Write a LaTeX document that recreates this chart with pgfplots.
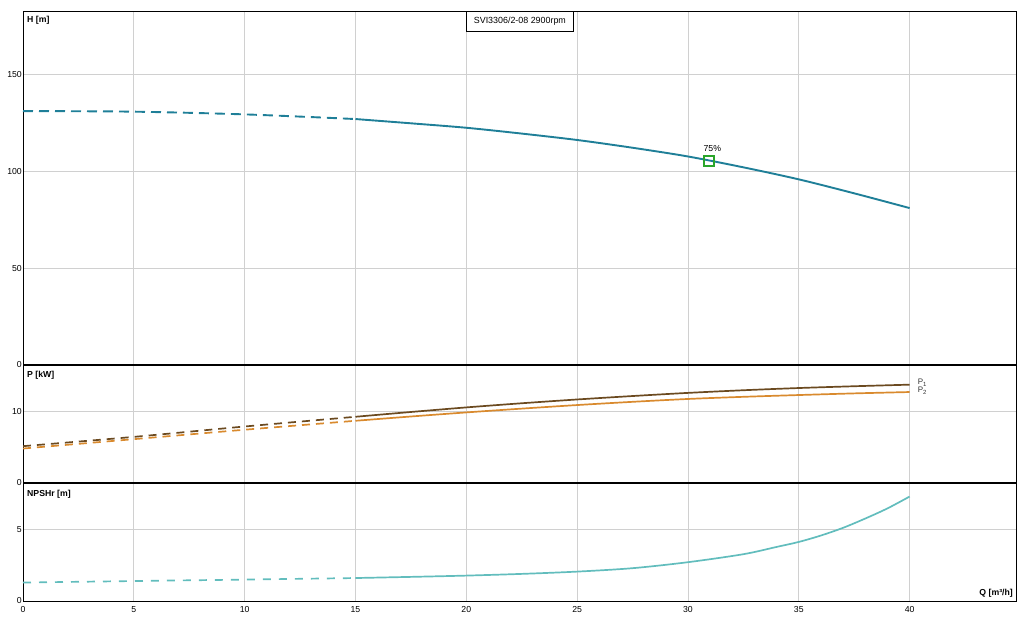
\documentclass[border=0pt]{standalone}
\usepackage{fontspec}
\setmainfont{Liberation Sans}
\usepackage{pgfplots}
\pgfplotsset{compat=1.18}
\definecolor{hcol}{HTML}{1F7F98}
\definecolor{p1col}{HTML}{6B4A20}
\definecolor{p2col}{HTML}{D98A2E}
\definecolor{ncol}{HTML}{62BDBD}
\definecolor{gridc}{HTML}{D0D0D0}
\definecolor{mk}{HTML}{2AA52A}
\pgfplotsset{
  panel/.style={
    scale only axis, width=993pt, xmin=0, xmax=44.8,
    xtick={0,5,...,40}, grid=major,
    major grid style={gridc, line width=0.8pt},
    major tick length=0pt,
    axis line style={black, line width=0.9pt},
    tick label style={font=\fontsize{8.7}{10}\selectfont},
    /pgf/number format/assume math mode=true,
    yticklabel style={inner sep=1pt},
    xticklabel style={yshift=-1.5pt},
  }
}
\begin{document}
\begin{tikzpicture}
% ---------- H panel ----------
\begin{axis}[panel, at={(23pt,259pt)}, anchor=south west, height=354pt,
  ymin=0, ymax=182.5, ytick={0,50,100,150}, xticklabels={}]
\addplot[hcol, line width=1.9pt, smooth, dash pattern=on 10pt off 6pt]
  coordinates {(0,130.9) (5,130.6) (10,129.2) (15,126.8)};
\addplot[hcol, line width=1.9pt, smooth]
  coordinates {(15,126.8) (17.5,124.6) (20,122.3) (22.5,119.3) (25,116.0) (27.5,112.0) (30,107.5) (32.5,101.9) (35,95.7) (37.5,88.5) (40,80.9)};
\addplot[only marks, mark=square, mark size=5pt, mk, mark options={line width=1.4pt}]
  coordinates {(30.94,105.2)};
\node[font=\fontsize{8.7}{10}\selectfont, inner sep=0] at (axis cs:31.1,111.7) {75\%};
\node[font=\bfseries\fontsize{8.7}{10}\selectfont, anchor=north west, inner sep=0] at ([xshift=4pt,yshift=-4.5pt]rel axis cs:0,1) {H [m]};
\node[font=\fontsize{8.9}{10}\selectfont, draw=black, line width=0.8pt, fill=white, anchor=north, minimum width=107.7pt, minimum height=19.7pt, inner sep=0] at (rel axis cs:0.5004,1) {SVI3306/2-08 2900rpm};
\end{axis}
% ---------- P panel ----------
\begin{axis}[panel, at={(23pt,141pt)}, anchor=south west, height=118pt,
  ymin=0, ymax=16.5, ytick={0,10}, xticklabels={}]
\addplot[p1col, line width=1.7pt, smooth, dash pattern=on 8pt off 6pt]
  coordinates {(0,5.15) (5,6.45) (10,7.9) (15,9.26)};
\addplot[p2col, line width=1.7pt, smooth, dash pattern=on 8pt off 6pt]
  coordinates {(0,4.82) (5,6.13) (10,7.45) (15,8.7)};
\addplot[p1col, line width=1.7pt, smooth]
  coordinates {(15,9.26) (17.5,9.93) (20,10.57) (22.5,11.15) (25,11.68) (27.5,12.16) (30,12.6) (32.5,12.97) (35,13.28) (37.5,13.53) (40,13.75)};
\addplot[p2col, line width=1.7pt, smooth]
  coordinates {(15,8.7) (17.5,9.3) (20,9.87) (22.5,10.4) (25,10.9) (27.5,11.35) (30,11.75) (32.5,12.05) (35,12.3) (37.5,12.53) (40,12.72)};
\node[font=\fontsize{8}{9}\selectfont, text=black!80, anchor=west, inner sep=0] at ([xshift=8pt]axis cs:40,14.0) {P\textsubscript{1}};
\node[font=\fontsize{8}{9}\selectfont, text=black!80, anchor=west, inner sep=0] at ([xshift=8pt]axis cs:40,12.9) {P\textsubscript{2}};
\node[font=\bfseries\fontsize{8.7}{10}\selectfont, anchor=north west, inner sep=0] at ([xshift=4pt,yshift=-6pt]rel axis cs:0,1) {P [kW]};
\end{axis}
% ---------- NPSH panel ----------
\begin{axis}[panel, at={(23pt,23pt)}, anchor=south west, height=118pt,
  ymin=0, ymax=8.27, ytick={0,5}]
\addplot[ncol, line width=1.7pt, smooth, dash pattern=on 8pt off 8pt]
  coordinates {(0,1.29) (5,1.40) (10,1.50) (15,1.61)};
\addplot[ncol, line width=1.7pt, smooth]
  coordinates {(15,1.61) (17.5,1.69) (20,1.78) (22.5,1.9) (25,2.06) (27.5,2.3) (30,2.72) (32.5,3.28) (34,3.79) (35,4.14) (36,4.59) (37,5.13) (38,5.78) (39,6.49) (40,7.32)};
\node[font=\bfseries\fontsize{8.7}{10}\selectfont, anchor=north west, inner sep=0] at ([xshift=4pt,yshift=-7pt]rel axis cs:0,1) {NPSHr [m]};
\node[font=\bfseries\fontsize{8.7}{10}\selectfont, anchor=south east, inner sep=0] at ([xshift=-3pt,yshift=3pt]rel axis cs:1,0) {Q [m³/h]};
\end{axis}
\draw[line width=2pt] (23pt,141pt) -- (1016pt,141pt);
\draw[line width=2pt] (23pt,259pt) -- (1016pt,259pt);
\pgfresetboundingbox
\useasboundingbox (0pt,0pt) rectangle (1025pt,624pt);
\end{tikzpicture}
\end{document}
